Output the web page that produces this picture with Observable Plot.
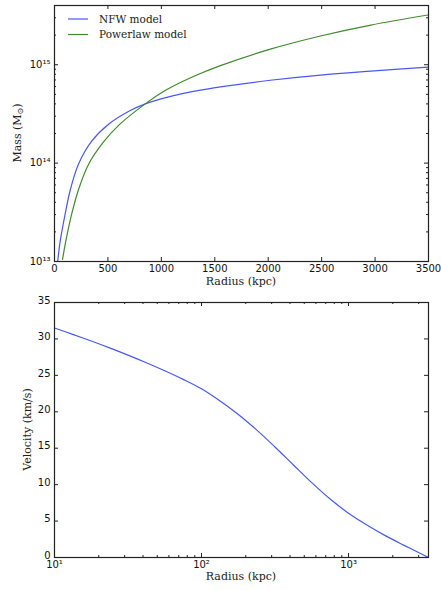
<!DOCTYPE html>
<html><head><meta charset="utf-8">
<script src="https://cdn.jsdelivr.net/npm/d3@7"></script>
<script src="https://cdn.jsdelivr.net/npm/@observablehq/plot@0.6"></script>
<style>
html,body{margin:0;padding:0;background:#fff;}
#chart{width:441px;}
svg{display:block;}
</style></head><body><div id="chart"></div>
<script>
// ---- data ----
const seriesNames = ["NFW model", "Powerlaw model"];
const seriesColors = ["#4858f2", "#3f8a2c"];

const nfwRadius = [30, 53, 100, 147, 225, 350, 506, 700, 850, 1050, 1300, 1553, 2020, 2489, 2960, 3500];
const nfwMass   = [1.0e13, 1.6e13, 3.05e13, 5.3e13, 9.8e13, 1.68e14, 2.48e14, 3.38e14, 4.0e14, 4.65e14, 5.35e14, 5.95e14, 6.95e14, 7.85e14, 8.6e14, 9.45e14];

const plRadius = [75, 110, 163, 225, 318, 459, 600, 849, 1052, 1300, 1553, 2020, 2489, 2960, 3500];
const plMass   = [1.05e13, 1.7e13, 3.1e13, 5.4e13, 9.7e13, 1.64e14, 2.42e14, 4.0e14, 5.6e14, 7.6e14, 9.8e14, 1.44e15, 1.96e15, 2.53e15, 3.21e15];

const velRadius = [10, 13.3, 17.8, 23.7, 31.6, 42.2, 56.2, 75, 100, 133, 178, 237, 316, 422, 562, 750, 1000, 1334, 1778, 2371, 3162, 3500];
const velocity  = [31.5, 30.62, 29.71, 28.77, 27.78, 26.73, 25.63, 24.45, 23.15, 21.52, 19.64, 17.52, 15.17, 12.7, 10.27, 8.02, 6.08, 4.46, 3.0, 1.7, 0.45, 0];

const radiusTicksLin = [0, 500, 1000, 1500, 2000, 2500, 3000, 3500];
const massTicks = [1e13, 1e14, 1e15];
const massMinor = [2e13,3e13,4e13,5e13,6e13,7e13,8e13,9e13,2e14,3e14,4e14,5e14,6e14,7e14,8e14,9e14,2e15,3e15];
const radiusTicksLog = [10, 100, 1000];
const radiusMinorLog = [20,30,40,50,60,70,80,90,200,300,400,500,600,700,800,900,2000,3000];
const velocityTicks = [0, 5, 10, 15, 20, 25, 30, 35];

const xLabel = "Radius (kpc)";
const velLabel = "Velocity (km/s)";

// ---- helpers ----
const SUP = "⁰¹²³⁴⁵⁶⁷⁸⁹";
const fmtPow = d => "10" + String(Math.round(Math.log10(d))).split("").map(c => SUP[+c]).join("");
const fmtPlain = d => String(d);

const W = 441, H = 295;
const tickColor = "#222";
const style = {fontFamily: "DejaVu Sans", fontSize: "10px", color: "#111", background: "#fff"};

const massRows = [
  ...nfwRadius.map((r, i) => ({radius: r, mass: nfwMass[i], model: seriesNames[0]})),
  ...plRadius.map((r, i) => ({radius: r, mass: plMass[i], model: seriesNames[1]}))
];
const velRows = velRadius.map((r, i) => ({radius: r, v: velocity[i]}));

// ---- top chart ----
const m1 = {top: 5, right: 13, bottom: 34, left: 54};
const ph1 = H - m1.top - m1.bottom;
const pw = W - m1.left - m1.right;

const topChart = Plot.plot({
  width: W, height: H,
  marginTop: m1.top, marginRight: m1.right, marginBottom: m1.bottom, marginLeft: m1.left,
  style,
  x: {domain: [0, 3500]},
  y: {type: "log", domain: [1e13, 4e15]},
  color: {domain: seriesNames, range: seriesColors},
  marks: [
    Plot.line(massRows, {x: "radius", y: "mass", stroke: "model", z: "model", strokeWidth: 1.2, curve: "catmull-rom", clip: true}),
    Plot.tickX(radiusTicksLin, {x: d => d, insetTop: ph1 - 4, stroke: tickColor}),
    Plot.tickX(radiusTicksLin, {x: d => d, insetBottom: ph1 - 4, stroke: tickColor}),
    Plot.tickY(massTicks, {y: d => d, insetRight: pw - 4, stroke: tickColor}),
    Plot.tickY(massTicks, {y: d => d, insetLeft: pw - 4, stroke: tickColor}),
    Plot.tickY(massMinor, {y: d => d, insetRight: pw - 2, stroke: tickColor}),
    Plot.tickY(massMinor, {y: d => d, insetLeft: pw - 2, stroke: tickColor}),
    Plot.axisX(radiusTicksLin, {tickSize: 0, tickPadding: 3, label: null, tickFormat: fmtPlain, fill: "#111"}),
    Plot.axisY(massTicks, {tickSize: 0, tickPadding: 4, label: null, tickFormat: fmtPow, fill: "#111"}),
    Plot.frame({stroke: "#222", strokeWidth: 1.2})
  ]
});

// ---- bottom chart ----
const m2 = {top: 7, right: 13, bottom: 33, left: 54};
const ph2 = H - m2.top - m2.bottom;

const botChart = Plot.plot({
  width: W, height: H,
  marginTop: m2.top, marginRight: m2.right, marginBottom: m2.bottom, marginLeft: m2.left,
  style,
  x: {type: "log", domain: [10, 3500]},
  y: {domain: [0, 35]},
  marks: [
    Plot.line(velRows, {x: "radius", y: "v", stroke: seriesColors[0], strokeWidth: 1.2, curve: "catmull-rom", clip: true}),
    Plot.tickX(radiusTicksLog, {x: d => d, insetTop: ph2 - 4, stroke: tickColor}),
    Plot.tickX(radiusTicksLog, {x: d => d, insetBottom: ph2 - 4, stroke: tickColor}),
    Plot.tickX(radiusMinorLog, {x: d => d, insetTop: ph2 - 2, stroke: tickColor}),
    Plot.tickX(radiusMinorLog, {x: d => d, insetBottom: ph2 - 2, stroke: tickColor}),
    Plot.tickY(velocityTicks, {y: d => d, insetRight: pw - 4, stroke: tickColor}),
    Plot.tickY(velocityTicks, {y: d => d, insetLeft: pw - 4, stroke: tickColor}),
    Plot.axisX(radiusTicksLog, {tickSize: 0, tickPadding: 3, label: null, tickFormat: fmtPow, fill: "#111"}),
    Plot.axisY(velocityTicks, {tickSize: 0, tickPadding: 4, label: null, tickFormat: fmtPlain, fill: "#111", dy: -2}),
    Plot.frame({stroke: "#222", strokeWidth: 1.2})
  ]
});

const root = document.getElementById("chart");
root.appendChild(topChart);
root.appendChild(botChart);

// ---- labels and legend ----
const serif = "DejaVu Serif";
function addText(svg, x, y, txt) {
  return d3.select(svg).append("text")
    .attr("x", x).attr("y", y)
    .attr("text-anchor", "middle")
    .attr("font-family", serif)
    .attr("font-size", 11)
    .attr("fill", "#222")
    .text(txt);
}
addText(topChart, 241, 285, xLabel);
addText(botChart, 241, 285, xLabel);

const ml = d3.select(topChart).append("text")
  .attr("transform", "translate(21,133) rotate(-90)")
  .attr("text-anchor", "middle")
  .attr("font-family", serif).attr("font-size", 11).attr("fill", "#222");
ml.append("tspan").text("Mass (M");
ml.append("tspan").attr("font-size", 8).attr("dy", 2).text("⊙");
ml.append("tspan").attr("dy", -2).text(")");

d3.select(botChart).append("text")
  .attr("transform", "translate(31,134.5) rotate(-90)")
  .attr("text-anchor", "middle")
  .attr("font-family", serif).attr("font-size", 11).attr("fill", "#222")
  .text(velLabel);

const lg = d3.select(topChart).append("g");
seriesNames.forEach((name, i) => {
  const y = 19 + i * 15.5;
  lg.append("line").attr("x1", 68).attr("x2", 88).attr("y1", y).attr("y2", y)
    .attr("stroke", seriesColors[i]).attr("stroke-width", 1.2);
  lg.append("text").attr("x", 99).attr("y", y + 3.5)
    .attr("text-anchor", "start")
    .attr("font-family", serif).attr("font-size", 10.5).attr("fill", "#222")
    .text(name);
});
</script>
</body></html>
